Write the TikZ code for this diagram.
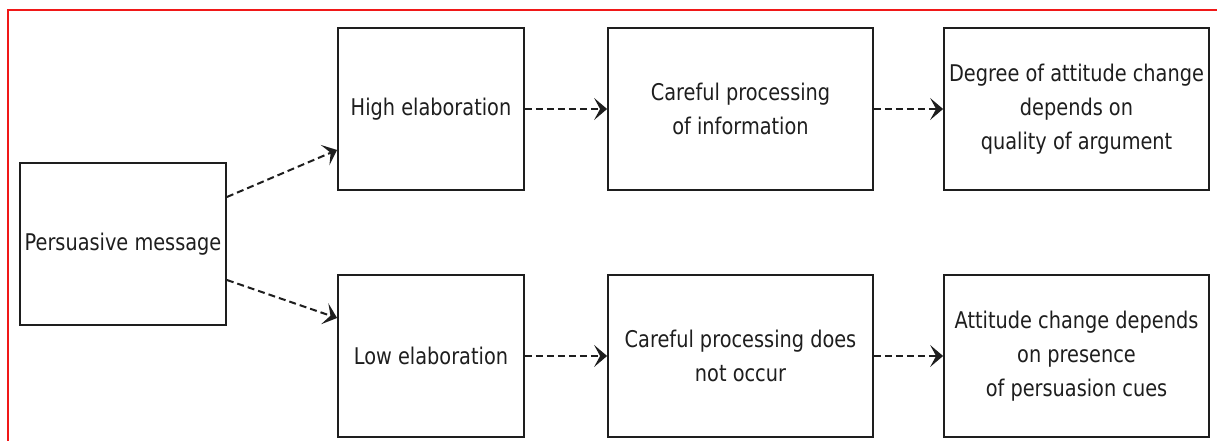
\documentclass[tikz,border=0pt]{standalone}
\usepackage{fontspec}
\setmainfont{DejaVu Sans}[FakeStretch=0.84]
\usetikzlibrary{arrows.meta}
\definecolor{ink}{HTML}{1E1E1E}
\definecolor{frame}{HTML}{F01818}
\tikzset{
  stagebox/.style={draw=ink, line width=1.8pt, fill=white, inner sep=0pt,
    minimum height=162pt, align=center, text=ink,
    font=\fontsize{23}{34}\selectfont},
  flow/.style={draw=ink, line width=2pt, dash pattern=on 7pt off 4pt,
    -{Stealth[length=13pt, width=22pt, inset=6pt]}}
}
\begin{document}
\begin{tikzpicture}[x=1pt, y=1pt]
  \useasboundingbox (0,0) rectangle (1217,441);
  % outer frame (top and left edges only)
  \draw[frame, line width=1.5pt] (8,0) -- (8,431) -- (1217,431);

  % nodes
  \node[stagebox, minimum width=206pt] (pm) at (123,197) {Persuasive message};
  \node[stagebox, minimum width=186pt] (high) at (431,332) {High elaboration};
  \node[stagebox, minimum width=186pt] (low) at (431,85) {Low elaboration};
  \node[stagebox, minimum width=265pt] (careful) at (740.5,332) {Careful processing\\of information};
  \node[stagebox, minimum width=265pt] (nocare) at (740.5,85) {Careful processing does\\not occur};
  \node[stagebox, minimum width=265pt] (degree) at (1076.5,332) {Degree of attitude change\\depends on\\quality of argument};
  \node[stagebox, minimum width=265pt] (cues) at (1076.5,85) {Attitude change depends\\on presence\\of persuasion cues};

  % connectors
  \draw[flow] ([yshift=47pt]pm.east) -- ([yshift=-41pt]high.west);
  \draw[flow] ([yshift=-36pt]pm.east) -- ([yshift=38pt]low.west);
  \draw[flow] (high.east) -- (careful.west);
  \draw[flow] (low.east) -- (nocare.west);
  \draw[flow] (careful.east) -- (degree.west);
  \draw[flow] (nocare.east) -- (cues.west);
\end{tikzpicture}
\end{document}
